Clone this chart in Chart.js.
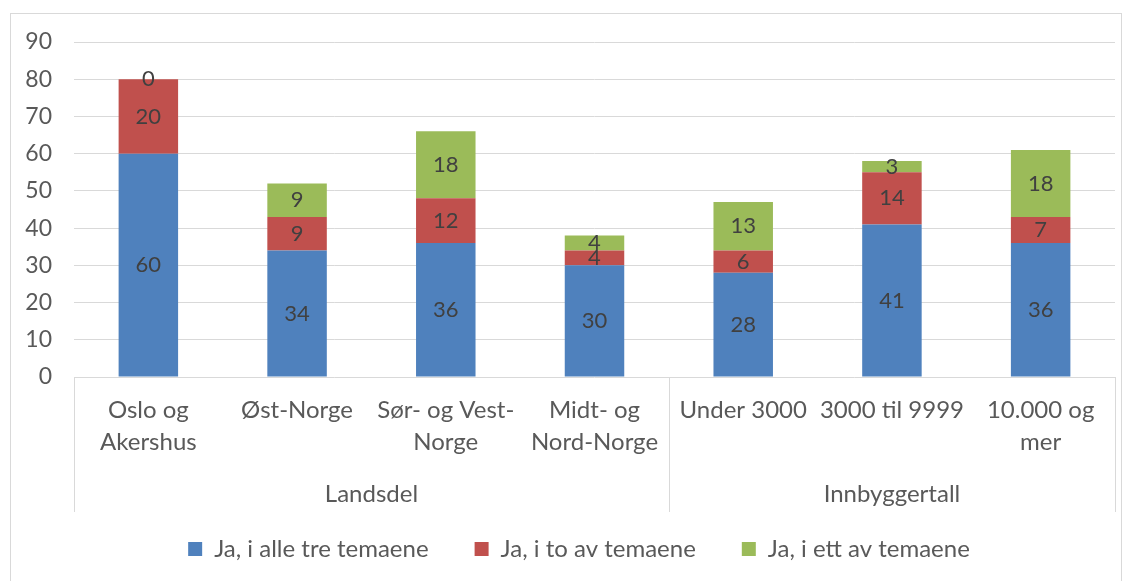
<!DOCTYPE html>
<html>
<head>
<meta charset="utf-8">
<script src="https://cdn.jsdelivr.net/npm/chart.js@4"></script>
<style>
html, body { margin: 0; padding: 0; background: #fff; }
#ramme { position: absolute; left: 10px; top: 13px; width: 1112px; height: 572px; border: 1px solid #d9d9d9; box-sizing: border-box; }
canvas { display: block; }
</style>
</head>
<body>
<div id="ramme"><canvas id="myChart"></canvas></div>
<script>
const kategorier = [["Oslo og", "Akershus"], "Øst-Norge", ["Sør- og Vest-", "Norge"], ["Midt- og", "Nord-Norge"], "Under 3000", "3000 til 9999", ["10.000 og", "mer"]];
const grupper = ["Landsdel", "Innbyggertall"];
const gruppeStorrelse = [4, 3];

const alleTre = [60, 34, 36, 30, 28, 41, 36];
const toAv = [20, 9, 12, 4, 6, 14, 7];
const ettAv = [0, 9, 18, 4, 13, 3, 18];

const yTicks = [0, 10, 20, 30, 40, 50, 60, 70, 80, 90];

const tekstFarge = "#595959";
const linjeFarge = "#d9d9d9";
const skrift = "Lato";

// tallene midt i hver stolpe
const verdiEtiketter = {
    id: "verdiEtiketter",
    afterDatasetsDraw(chart) {
        const ctx = chart.ctx;
        ctx.save();
        ctx.font = "22px " + skrift;
        ctx.fillStyle = "#404040";
        ctx.textAlign = "center";
        ctx.textBaseline = "middle";
        chart.data.datasets.forEach(function(ds, i) {
            chart.getDatasetMeta(i).data.forEach(function(bar, j) {
                ctx.fillText(ds.data[j], bar.x, (bar.y + bar.base) / 2);
            });
        });
        ctx.restore();
    }
};

// skillelinjer og gruppenavn under x-aksen
const gruppeAkse = {
    id: "gruppeAkse",
    afterLayout(chart) {
        // forklaringen står litt til høyre for midten i originalen
        chart.legend.left += 16;
        chart.legend.right += 16;
    },
    afterDraw(chart) {
        const x = chart.scales.x;
        const ctx = chart.ctx;
        const bunn = x.top + 135;
        ctx.save();
        ctx.strokeStyle = linjeFarge;
        ctx.lineWidth = 1;
        ctx.font = "24px " + skrift;
        ctx.fillStyle = tekstFarge;
        ctx.textAlign = "center";
        ctx.textBaseline = "middle";
        let start = 0;
        const kanter = [x.getPixelForValue(-0.5)];
        gruppeStorrelse.forEach(function(n, g) {
            const v = x.getPixelForValue(start - 0.5);
            const h = x.getPixelForValue(start + n - 0.5);
            kanter.push(h);
            ctx.fillText(grupper[g], (v + h) / 2, x.top + 117);
            start += n;
        });
        kanter.forEach(function(k) {
            const px = Math.round(k) + 0.5;
            ctx.beginPath();
            ctx.moveTo(px, x.top);
            ctx.lineTo(px, bunn);
            ctx.stroke();
        });
        ctx.restore();
    }
};

let myChart;

function graficar(navn) {
    const data = {
        labels: kategorier,
        datasets: [
            { label: "Ja, i alle tre temaene", data: alleTre, backgroundColor: "#4f81bd" },
            { label: "Ja, i to av temaene", data: toAv, backgroundColor: "#c0504d" },
            { label: "Ja, i ett av temaene", data: ettAv, backgroundColor: "#9bbb59" }
        ]
    };
    myChart = new Chart(document.getElementById(navn), {
        type: "bar",
        data: data,
        options: {
            responsive: true,
            maintainAspectRatio: false,
            animation: false,
            categoryPercentage: 0.4,
            barPercentage: 1,
            layout: { padding: { top: 28, right: 6, left: 0, bottom: 13 } },
            plugins: {
                tooltip: { enabled: false },
                legend: {
                    position: "bottom",
                    labels: {
                        boxWidth: 14,
                        boxHeight: 14,
                        padding: 46,
                        color: tekstFarge,
                        font: { family: skrift, size: 24 }
                    }
                }
            },
            scales: {
                x: {
                    stacked: true,
                    grid: { display: false, drawTicks: false },
                    border: { display: false },
                    ticks: {
                        color: tekstFarge,
                        padding: 17,
                        maxRotation: 0,
                        autoSkip: false,
                        font: { family: skrift, size: 24, lineHeight: 1.33 }
                    },
                    afterFit: function(s) { s.height = 114; s.paddingTop = 0; s.paddingBottom = 0; }
                },
                y: {
                    stacked: true,
                    min: 0,
                    max: 90,
                    afterBuildTicks: function(s) { s.ticks = yTicks.map(function(v) { return { value: v }; }); },
                    grid: { color: linjeFarge, lineWidth: 1, drawTicks: false },
                    border: { display: false },
                    ticks: {
                        color: tekstFarge,
                        padding: 22,
                        font: { family: skrift, size: 23 }
                    },
                    afterFit: function(s) { s.width = 63; s.paddingTop = 0; s.paddingBottom = 0; }
                }
            }
        },
        plugins: [verdiEtiketter, gruppeAkse]
    });
}

graficar("myChart");
</script>
</body>
</html>
